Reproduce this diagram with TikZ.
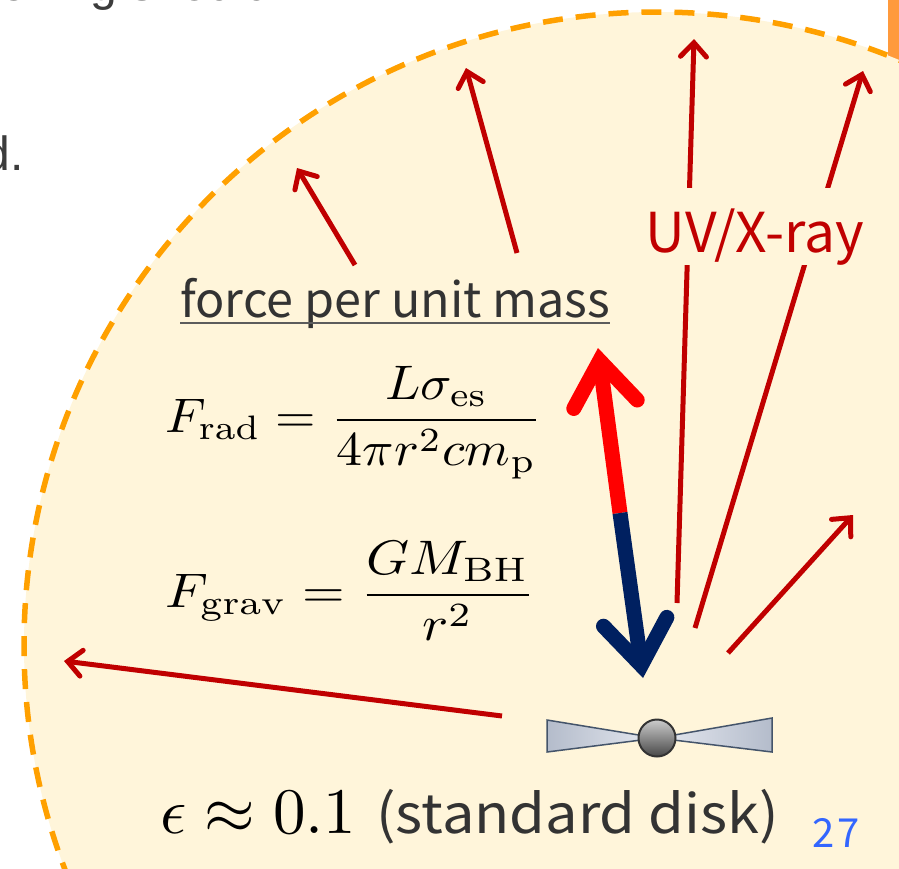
\documentclass[tikz,border=0pt]{standalone}
\usepackage{fontspec}
\usepackage{amsmath}
\usepackage{graphicx}
\usetikzlibrary{arrows.meta}
\newfontfamily\jpsans{Noto Sans CJK JP}
\newfontfamily\slidesans{Liberation Sans}
\definecolor{cream}{HTML}{FFF5DA}
\definecolor{dashorange}{HTML}{FFA000}
\definecolor{taborange}{HTML}{FF9A3C}
\definecolor{rayred}{HTML}{C00000}
\definecolor{pushred}{HTML}{FF0000}
\definecolor{pullnavy}{HTML}{002060}
\definecolor{inkgray}{HTML}{333333}
\definecolor{slidegray}{HTML}{3C3C3C}
\definecolor{pageblue}{HTML}{3366FF}
\definecolor{diskedge}{HTML}{44546A}
\definecolor{diskouter}{HTML}{B4BCCB}
\definecolor{diskinner}{HTML}{E6E9F0}
\begin{document}
\begin{tikzpicture}[x=1pt,y=-1pt,
  ray/.style={draw=rayred, line width=5pt,
    -{Straight Barb[length=14pt,width=26pt,line cap=round,line join=miter]}},
  forcearrow/.style={line width=15pt,
    -{Straight Barb[length=44pt,width=64pt,line cap=round,line join=miter]}},
  eqn/.style={inner sep=0pt, anchor=base west},
  slidetext/.style={inner sep=0pt, text=slidegray,
    font=\slidesans\fontsize{48}{56}\selectfont},
  raylabel/.style={fill=cream, inner xsep=6pt, inner ysep=0pt,
    text height=64pt, text depth=13pt, text=rayred,
    font=\jpsans\fontsize{55}{62}\selectfont, anchor=base},
]
\useasboundingbox (0,0) rectangle (899,868);
\clip (0,0) rectangle (899,868);

% background slide fragments
\fill[taborange] (888,0) rectangle (899,90);
\node[slidetext, anchor=base west] (topline) at (0,0) {ening should};
\node[slidetext, anchor=base east] (leftline) at (24,170) {d.};

% the dashed sphere around the source
\draw[fill=cream, draw=dashorange, line width=5.5pt, dash pattern=on 20pt off 13pt]
  (657,645) circle[radius=633pt];

% emitted radiation
\coordinate (r1s) at (355,265); \coordinate (r1e) at (297,168);
\coordinate (r2s) at (517,253); \coordinate (r2e) at (466,68);
\coordinate (r3s) at (677,603); \coordinate (r3e) at (694,39);
\coordinate (r4s) at (695,628); \coordinate (r4e) at (863,71);
\coordinate (r5s) at (728,653); \coordinate (r5e) at (853,515);
\coordinate (r6s) at (502,716); \coordinate (r6e) at (64,661);
\draw[ray] (r1s) -- (r1e);
\draw[ray] (r2s) -- (r2e);
\draw[ray] (r3s) -- (r3e);
\draw[ray] (r4s) -- (r4e);
\draw[ray] (r5s) -- (r5e);
\draw[ray] (r6s) -- (r6e);
\node[raylabel] (uvx) at (755,252) {UV/X-ray};

% radiation push versus gravity pull
\coordinate (fmid) at (620,513);
\coordinate (fup) at (598,348);
\coordinate (fdown) at (643,678);
\draw[forcearrow, draw=pushred] (fmid) -- (fup);
\draw[forcearrow, draw=pullnavy] (fmid) -- (fdown);

% labels and formulae
\node[inner sep=0pt, anchor=base west, text=inkgray,
  font=\jpsans\fontsize{48.5}{56}\selectfont] (fpum) at (180,317) {force per unit mass};
\draw[inkgray!80, line width=2pt] ([yshift=-6pt]fpum.base west) -- ([yshift=-6pt]fpum.base east);

\node[eqn] (frad) at (165,432)
  {\scalebox{5.2}[4.85]{$\displaystyle F_{\mathrm{rad}}=\frac{L\sigma_{\mathrm{es}}}{4\pi r^2cm_{\mathrm{p}}}$}};
\node[eqn] (fgrav) at (165,607)
  {\scalebox{5.48}[4.85]{$\displaystyle F_{\mathrm{grav}}=\frac{GM_{\mathrm{BH}}}{r^2}$}};

\node[eqn] (eff) at (160,833)
  {\scalebox{6.5}{$\epsilon\approx0.1$}\hspace{20pt}\scalebox{1.07}[1]{\color{inkgray}\jpsans\fontsize{54}{62}\selectfont(standard disk)}};
\node[eqn, text=pageblue, font=\jpsans\fontsize{40}{46}\selectfont] (pagenum) at (812,847) {2\kern3pt7};

% accretion disk with the central black hole
\coordinate (bh) at (657,738);
\draw[diskedge, line width=1.5pt, left color=diskouter, right color=diskinner]
  (547,720) -- (bh) -- (547,752) -- cycle;
\draw[diskedge, line width=1.5pt, left color=diskinner, right color=diskouter]
  (772,718) -- (bh) -- (772,752) -- cycle;
\draw[black!80, line width=2pt, top color=black!20, bottom color=black!72]
  (bh) circle[radius=18.5pt];
\end{tikzpicture}
\end{document}
